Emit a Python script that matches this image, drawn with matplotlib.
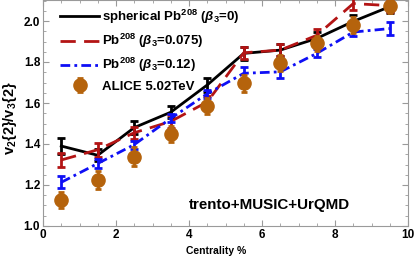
import matplotlib
matplotlib.use("Agg")
import matplotlib.pyplot as plt
from matplotlib.ticker import MultipleLocator, FormatStrFormatter
from matplotlib.lines import Line2D

plt.rcParams['font.family'] = ['Liberation Sans', 'DejaVu Sans']
plt.rcParams['font.weight'] = 'bold'
plt.rcParams['mathtext.fontset'] = 'custom'
plt.rcParams['mathtext.rm'] = 'Liberation Sans:bold'
plt.rcParams['mathtext.bf'] = 'Liberation Sans:bold'
plt.rcParams['mathtext.it'] = 'Liberation Sans:italic'

centrality = [0.5, 1.5, 2.5, 3.5, 4.5, 5.5, 6.5, 7.5, 8.5, 9.5]

sph = [1.39, 1.345, 1.48, 1.555, 1.688, 1.842, 1.858, 1.915, 1.998, 2.07]
sph_err = [0.04, 0.03, 0.03, 0.03, 0.035, 0.03, 0.03, 0.03, 0.03, 0.03]

b075 = [1.322, 1.372, 1.455, 1.51, 1.605, 1.845, 1.858, 1.93, 2.085, 2.075]
b075_err = [0.035, 0.035, 0.03, 0.03, 0.03, 0.03, 0.03, 0.03, 0.03, 0.03]

b012 = [1.213, 1.305, 1.397, 1.525, 1.645, 1.745, 1.752, 1.842, 1.946, 1.963]
b012_err = [0.03, 0.02, 0.02, 0.02, 0.02, 0.03, 0.03, 0.02, 0.02, 0.033]

alice = [1.128, 1.225, 1.338, 1.449, 1.584, 1.696, 1.795, 1.891, 1.98, 2.073]
alice_err = [0.04, 0.045, 0.045, 0.04, 0.04, 0.04, 0.04, 0.035, 0.04, 0.035]

labels = [r"spherical Pb$^{208}$ ($\mathit{\beta}_{3}$=0)",
          r"Pb$^{208}$ ($\mathit{\beta}_{3}$=0.075)",
          r"Pb$^{208}$ ($\mathit{\beta}_{3}$=0.12)",
          "ALICE 5.02TeV"]

W, H = 415, 262
fig = plt.figure(figsize=(W / 100, H / 100), dpi=100)
ax = fig.add_axes([43 / W, (H - 226) / H, 365 / W, 226 / H])

black = '#000000'
red = '#B31414'
blue = '#0F0FF5'
brown = '#B5630C'

dash_red = (0, (5.5, 3))
dash_blue = (0, (3.5, 1.5, 1, 1.5))

ax.errorbar(centrality, sph, yerr=sph_err, color=black, lw=2.0,
            capsize=3, capthick=2.0, elinewidth=2.0, zorder=2)
ax.errorbar(centrality, b075, yerr=b075_err, color=red, lw=2.0,
            ls=dash_red, capsize=3, capthick=2.0, elinewidth=2.0, zorder=3)
ax.errorbar(centrality, b012, yerr=b012_err, color=blue, lw=2.0,
            ls=dash_blue, capsize=3, capthick=2.0, elinewidth=2.0, zorder=4)
h4 = ax.errorbar(centrality, alice, yerr=alice_err, color=brown, fmt='o', ms=9.5,
                 capsize=2.5, capthick=2.0, elinewidth=2.0, zorder=5)

lh1 = Line2D([], [], color=black, lw=2.0)
lh2 = Line2D([], [], color=red, lw=2.0, ls=dash_red)
lh3 = Line2D([], [], color=blue, lw=2.0, ls=dash_blue)
ax.legend([lh1, lh2, lh3, h4], labels, loc='upper left',
          bbox_to_anchor=(0.026, 1.0), frameon=False, fontsize=9.5,
          handlelength=2.95, handletextpad=0.2, labelspacing=0.45,
          borderaxespad=0.2)

ax.set_xlim(0, 10)
ax.set_ylim(1.0, 1.0 + 226 / 205)
ax.xaxis.set_major_locator(MultipleLocator(2))
ax.xaxis.set_minor_locator(MultipleLocator(0.5))
ax.yaxis.set_major_locator(MultipleLocator(0.2))
ax.yaxis.set_minor_locator(MultipleLocator(0.05))
ax.yaxis.set_major_formatter(FormatStrFormatter('%.1f'))
ax.xaxis.set_major_formatter(FormatStrFormatter('%d'))

frame = '#9a9a9a'
for s in ax.spines.values():
    s.set_color(frame)
    s.set_linewidth(0.8)
ax.tick_params(which='both', direction='in', top=True, right=True, color=frame,
               labelsize=8.5, pad=2)
ax.tick_params(which='major', length=4, width=0.8)
ax.tick_params(which='minor', length=2.2, width=0.6)
for lab in ax.get_xticklabels() + ax.get_yticklabels():
    lab.set_fontweight('bold')

ax.text((269.5 - 43) / 365, 0.093, "trento+MUSIC+UrQMD", transform=ax.transAxes,
        ha='center', va='center', fontsize=10.9, fontweight='bold')

fig.text(216 / W, 1 - 251 / H, "Centrality %", ha='center', va='center',
         fontsize=7.5, fontweight='bold')
fig.text(10 / W, 1 - 118 / H, r"v$_{2}${2}/v$_{3}${2}", rotation=90,
         ha='center', va='center', fontsize=10.5, fontweight='bold')

fig.savefig("out.png", dpi=100)
